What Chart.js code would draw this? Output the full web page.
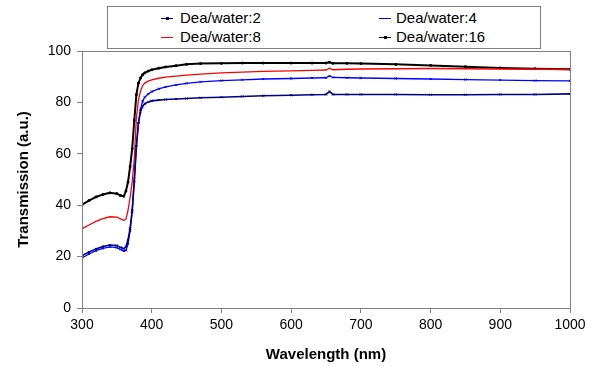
<!DOCTYPE html>
<html>
<head>
<meta charset="utf-8">
<script src="https://cdn.jsdelivr.net/npm/chart.js@4.4.0/dist/chart.umd.min.js"></script>
<style>
  body { margin: 0; background: #fff; }
  #wrap { position: relative; width: 604px; height: 366px; }
  #legend {
    position: absolute; left: 107px; top: 6px; width: 432px; height: 41px;
    border: 1px solid #808080; background: #fff;
    font-family: "Liberation Sans", Arial, sans-serif; font-size: 15px; color: #000;
  }
  .item { position: absolute; height: 18px; line-height: 18px; white-space: nowrap; }
  .item .mk { display: inline-block; position: relative; width: 12px; height: 18px; vertical-align: top; }
  .item .mk i { position: absolute; left: 0; top: 9px; width: 12px; height: 1px; }
  .item .mk b { position: absolute; left: 5px; top: 8px; width: 3px; height: 3px; }
</style>
</head>
<body>
<div id="wrap">
  <canvas id="c" width="604" height="366"></canvas>
  <div id="legend"></div>
</div>
<script>
// ---- data ----
const wavelengths = [300, 310, 320, 330, 340, 350, 355, 360, 363, 366, 369, 372, 375, 378, 381, 384, 387, 390, 395, 400,
  410, 420, 435, 450, 470, 500, 530, 560, 600, 630, 650, 655, 660, 680, 700, 750, 800, 850, 900, 950, 1000];

const dea2 = [20.4, 21.8, 23.0, 23.9, 24.5, 24.3, 23.6, 23.1, 23.8, 26.5, 31, 38, 49, 63, 72, 76.5, 78.5, 79.5, 80.2, 80.6,
  80.9, 81.1, 81.3, 81.5, 81.8, 82.0, 82.3, 82.6, 82.8, 83.0, 83.1, 84.2, 83.1, 83.1, 83.1, 83.1, 83.0, 83.0, 83.1, 83.1, 83.3];

const dea4 = [19.5, 21.0, 22.3, 23.2, 23.8, 23.5, 22.8, 22.2, 22.4, 25, 30, 37.5, 50, 63, 72, 77.5, 80.5, 82, 83.3, 84.2,
  85.3, 86.0, 86.8, 87.4, 88.0, 88.5, 88.8, 89.1, 89.3, 89.5, 89.6, 90.3, 89.7, 89.6, 89.5, 89.3, 89.1, 88.9, 88.7, 88.5, 88.4];

const dea8 = [30.8, 32.3, 33.7, 34.8, 35.5, 35.4, 34.7, 34.1, 34.5, 38, 43, 49, 58, 74, 81, 84.5, 86.5, 87.5, 88.3, 88.8,
  89.4, 89.8, 90.2, 90.6, 91.0, 91.5, 91.8, 92.1, 92.3, 92.5, 92.6, 93.3, 92.7, 92.9, 93.0, 93.1, 93.2, 93.1, 93.0, 92.9, 92.8];

const dea16 = [40.2, 41.8, 43.2, 44.2, 44.8, 44.5, 43.8, 43.5, 45.5, 49, 55, 62, 73, 83, 87.5, 89.5, 90.8, 91.5, 92.2, 92.7,
  93.3, 93.8, 94.3, 94.8, 95.1, 95.2, 95.3, 95.3, 95.3, 95.3, 95.3, 95.6, 95.2, 95.2, 95.1, 94.8, 94.4, 93.9, 93.4, 93.1, 92.9];

const xTicks = [300, 400, 500, 600, 700, 800, 900, 1000];
const yTicks = [0, 20, 40, 60, 80, 100];

const pts = arr => arr.map((v, i) => ({ x: wavelengths[i], y: v }));

const series = [
  { label: 'Dea/water:2', data: dea2, color: '#000080', marker: true, style: 'crossRot', r: 1.5, w: 1.6 },
  { label: 'Dea/water:4', data: dea4, color: '#0000ff', marker: false, style: 'crossRot', r: 1.5, w: 1.3 },
  { label: 'Dea/water:8', data: dea8, color: '#ff0000', marker: false, style: 'circle', r: 0, w: 1.3 },
  { label: 'Dea/water:16', data: dea16, color: '#000000', marker: true, style: 'rect', r: 1.2, w: 2 }
];

// plot frame (Excel style gray box)
const framePlugin = {
  id: 'frame',
  afterDraw(chart) {
    const a = chart.chartArea, ctx = chart.ctx;
    ctx.save();
    ctx.strokeStyle = '#808080';
    ctx.lineWidth = 1;
    ctx.strokeRect(Math.round(a.left) + 0.5, Math.round(a.top) + 0.5,
      Math.round(a.right - a.left), Math.round(a.bottom - a.top));
    ctx.restore();
  }
};

const tickFont = { family: '"Liberation Sans", Arial, sans-serif', size: 14 };
const titleFont = { family: '"Liberation Sans", Arial, sans-serif', size: 15, weight: 'bold' };

new Chart(document.getElementById('c'), {
  type: 'line',
  data: {
    datasets: series.map(s => ({
      label: s.label,
      data: pts(s.data),
      borderColor: s.color,
      backgroundColor: s.color,
      borderWidth: s.w,
      pointRadius: s.r,
      pointStyle: s.style,
      pointBorderWidth: 1,
      tension: 0,
      fill: false
    }))
  },
  options: {
    responsive: false,
    animation: false,
    layout: { padding: { left: 0, right: 34, top: 51, bottom: 0 } },
    plugins: { legend: { display: false }, tooltip: { enabled: false } },
    scales: {
      x: {
        type: 'linear', min: 300, max: 1000,
        afterBuildTicks: sc => { sc.ticks = xTicks.map(v => ({ value: v })); },
        afterFit: sc => { sc.height = 58; },
        ticks: { color: '#000', font: tickFont, padding: 4, maxRotation: 0, callback: v => String(v) },
        grid: { drawOnChartArea: false, color: '#808080', tickLength: 5 },
        border: { color: '#808080' },
        title: { display: true, text: 'Wavelength (nm)', color: '#000', font: titleFont, padding: { top: 2, bottom: 2 } }
      },
      y: {
        min: 0, max: 100,
        afterBuildTicks: sc => { sc.ticks = yTicks.map(v => ({ value: v })); },
        afterFit: sc => { sc.width = 82; },
        ticks: { color: '#000', font: tickFont, padding: 6 },
        grid: { drawOnChartArea: false, color: '#808080', tickLength: 5 },
        border: { color: '#808080' },
        title: { display: true, text: 'Transmission (a.u.)', color: '#000', font: titleFont, padding: { top: 15, bottom: 15 } }
      }
    }
  },
  plugins: [framePlugin]
});

// legend box, two columns like the original
const legend = document.getElementById('legend');
const spots = [[53, 2, 7], [271, 2, 5], [53, 21, 7], [271, 21, 5]];
series.forEach((s, i) => {
  const el = document.createElement('div');
  el.className = 'item';
  el.style.left = spots[i][0] + 'px';
  el.style.top = spots[i][1] + 'px';
  el.innerHTML = `<span class="mk" style="margin-right:${spots[i][2]}px"><i style="background:${s.color}"></i>` +
    (s.marker ? `<b style="background:${s.color}"></b>` : '') + `</span>${s.label}`;
  legend.appendChild(el);
});
</script>
</body>
</html>
